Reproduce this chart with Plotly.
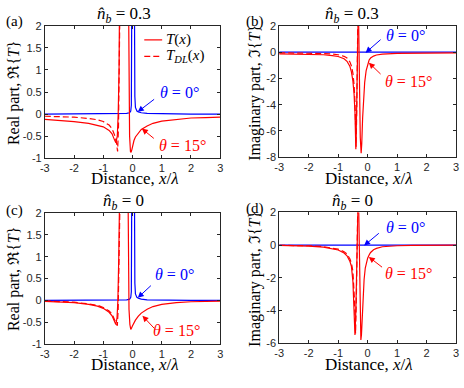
import plotly.graph_objects as go

# ---- data ----
# panel (a): real part, n_b = 0.3
a_x_T = [-3, -2.5, -2, -1.5, -1.2, -1, -0.8, -0.7, -0.62, -0.57, -0.52, -0.49, -0.46, -0.44, None,
         -0.14, -0.12, -0.1, -0.07, -0.05, -0.02, 0, 0.05, 0.1, 0.2, 0.3, 0.5, 0.7, 1, 1.5, 2, 2.5, 3]
a_y_T = [-0.12, -0.14, -0.17, -0.21, -0.25, -0.29, -0.37, -0.45, -0.58, -0.65, -0.5, 0, 1, 3, None,
         3, 0.5, -0.5, -0.85, -0.87, -0.8, -0.72, -0.6, -0.52, -0.42, -0.35, -0.27, -0.21, -0.16, -0.12, -0.09, -0.08, -0.07]
a_x_DL = [-3, -2.5, -2, -1.5, -1.2, -1, -0.8, -0.7, -0.6, -0.55, -0.51, -0.48, -0.46, -0.44, -0.42]
a_y_DL = [-0.05, -0.06, -0.07, -0.1, -0.13, -0.17, -0.25, -0.33, -0.5, -0.65, -0.85, -0.3, 0.5, 1.5, 3]

# panel (c): real part, n_b = 0
c_x_T = [-3, -2.5, -2, -1.5, -1.2, -1, -0.8, -0.7, -0.62, -0.57, -0.53, -0.5, -0.47, -0.45, -0.43, None,
         -0.16, -0.14, -0.12, -0.09, -0.06, -0.04, 0, 0.05, 0.1, 0.2, 0.3, 0.5, 0.7, 1, 1.5, 2, 2.5, 3]
c_y_T = [-0.02, -0.03, -0.05, -0.09, -0.13, -0.18, -0.27, -0.35, -0.47, -0.55, -0.4, 0, 1, 2.2, 3, None,
         3, 0.8, -0.2, -0.55, -0.66, -0.64, -0.58, -0.5, -0.45, -0.36, -0.29, -0.2, -0.14, -0.09, -0.05, -0.03, -0.02, -0.015]
c_x_DL = [-3, -2.5, -2, -1.5, -1.2, -1, -0.8, -0.7, -0.62, -0.56, -0.52, -0.49, -0.46, -0.43, -0.41]
c_y_DL = [-0.01, -0.02, -0.04, -0.08, -0.11, -0.16, -0.24, -0.31, -0.42, -0.5, -0.58, -0.2, 0.8, 2, 3]

# blue (theta = 0) real part, same in (a) and (c)
re_x_blue = [-3, -2, -1, -0.5, -0.3, -0.2, -0.1, -0.06, -0.04, -0.025, -0.02, 0.06, 0.066, 0.08, 0.1,
             0.15, 0.2, 0.3, 0.5, 1, 2, 3]
re_y_blue = [0, 0, 0, 0.005, 0.01, 0.015, 0.03, 0.07, 0.2, 2, 3.5, 3.5, 2, 0.4, 0.15,
             0.07, 0.05, 0.03, 0.015, 0.005, 0, 0]

# panel (b): imaginary part, n_b = 0.3
b_x_T = [-3, -2.5, -2, -1.5, -1.2, -1, -0.8, -0.7, -0.6, -0.55, -0.5, -0.46, -0.43, -0.4, -0.37, -0.34, -0.32, None,
         -0.31, -0.29, -0.27, -0.25, -0.22, -0.2, -0.17, -0.14, -0.1, -0.05, 0, 0.05, 0.1, 0.2, 0.3, 0.5, 1, 2, 3]
b_y_T = [-0.13, -0.14, -0.16, -0.2, -0.26, -0.33, -0.5, -0.7, -1.1, -1.5, -2.2, -3.2, -4.6, -7.4, -4, 0, 3, None,
         3, -1, -4.5, -6.5, -7.7, -7, -5, -3.5, -2.3, -1.4, -0.9, -0.6, -0.45, -0.3, -0.22, -0.15, -0.1, -0.07, -0.05]
b_x_DL = [-3, -2.5, -2, -1.5, -1.2, -1, -0.8, -0.7, -0.6, -0.55, -0.5, -0.46, -0.43, -0.41, -0.39, -0.37, -0.35, -0.33]
b_y_DL = [-0.05, -0.06, -0.08, -0.11, -0.15, -0.2, -0.32, -0.45, -0.75, -1.05, -1.6, -2.5, -3.8, -5.2, -7.2, -4.5, -0.5, 3]

# panel (d): imaginary part, n_b = 0
d_x_T = [-3, -2.5, -2, -1.5, -1.2, -1, -0.8, -0.7, -0.6, -0.55, -0.5, -0.47, -0.45, -0.43, -0.4, -0.37, -0.34, -0.32, None,
         -0.31, -0.29, -0.27, -0.25, -0.23, -0.21, -0.18, -0.15, -0.12, -0.08, -0.04, 0, 0.05, 0.1, 0.2, 0.3, 0.5, 0.7, 1, 1.5, 2, 3]
d_y_T = [-0.02, -0.03, -0.06, -0.12, -0.2, -0.3, -0.48, -0.65, -1.0, -1.3, -2.2, -3.3, -4.5, -5.5, -4, -1.5, 1, 3, None,
         3, 0, -3, -5, -5.8, -5.5, -4.2, -3, -2.1, -1.4, -1.0, -0.8, -0.6, -0.45, -0.28, -0.2, -0.1, -0.06, -0.04, -0.02, -0.01, -0.005]
d_x_DL = [-3, -2.5, -2, -1.5, -1.2, -1, -0.8, -0.7, -0.6, -0.55, -0.5, -0.47, -0.45, -0.43, -0.41, -0.38, -0.35, -0.33]
d_y_DL = [-0.01, -0.02, -0.04, -0.09, -0.16, -0.25, -0.4, -0.55, -0.85, -1.1, -1.6, -2.3, -3.2, -4.3, -5.4, -3, 0, 3]

# blue (theta = 0) imaginary part
im_x_blue = [-3, 0, 3]
im_y_blue = [0, 0, 0]

x_ticks = [-3, -2, -1, 0, 1, 2, 3]
re_ticks = [-1, -0.5, 0, 0.5, 1, 1.5, 2]
b_ticks = [-8, -6, -4, -2, 0, 2]
d_ticks = [-6, -4, -2, 0, 2]

RED = "#ff0000"
BLUE = "#0000ff"
AXC = "#262626"
SERIF = "Liberation Serif"
SANS = "Liberation Sans"

fig = go.Figure()


def add(x, y, color, dash, ax):
    fig.add_trace(go.Scatter(
        x=x, y=y, mode="lines", showlegend=False, hoverinfo="skip",
        line=dict(color=color, width=1.2, dash=dash),
        xaxis="x" + ax, yaxis="y" + ax,
    ))


# blue first, red on top
add(re_x_blue, re_y_blue, BLUE, "solid", "")
add(im_x_blue, im_y_blue, BLUE, "solid", "2")
add(re_x_blue, re_y_blue, BLUE, "solid", "3")
add(im_x_blue, im_y_blue, BLUE, "solid", "4")

add(a_x_T, a_y_T, RED, "solid", "")
add(a_x_DL, a_y_DL, RED, "6px,3px", "")
add(b_x_T, b_y_T, RED, "solid", "2")
add(b_x_DL, b_y_DL, RED, "6px,3px", "2")
add(c_x_T, c_y_T, RED, "solid", "3")
add(c_x_DL, c_y_DL, RED, "6px,3px", "3")
add(d_x_T, d_y_T, RED, "solid", "4")
add(d_x_DL, d_y_DL, RED, "6px,3px", "4")

W, H = 464, 388
# panel boxes in pixels: left, right, top, bottom
boxes = {
    "": (40.5, 219, 20.5, 157),
    "2": (279, 459, 20.5, 156),
    "3": (40.5, 219, 213.5, 349),
    "4": (279, 459, 213, 348),
}
yranges = {"": [-1, 2], "2": [-8, 2], "3": [-1, 2], "4": [-6, 2]}
yticks = {"": re_ticks, "2": b_ticks, "3": re_ticks, "4": d_ticks}

axis_style = dict(
    showline=True, linecolor=AXC, linewidth=0.8, mirror="ticks",
    ticks="inside", ticklen=3, tickcolor=AXC, tickwidth=0.8,
    showgrid=False, zeroline=False,
    tickfont=dict(family=SANS, size=11, color=AXC),
)

layout = {}
for k, (l, r, t, b) in boxes.items():
    layout["xaxis" + k] = dict(
        axis_style, domain=[l / W, r / W], range=[-3, 3], anchor="y" + k,
        tickvals=x_ticks, ticktext=[str(v) for v in x_ticks],
    )
    layout["yaxis" + k] = dict(
        axis_style, domain=[1 - b / H, 1 - t / H], range=yranges[k], anchor="x" + k,
        tickvals=yticks[k], ticktext=[("%g" % v) for v in yticks[k]],
    )

fig.update_layout(
    width=W, height=H,
    margin=dict(l=0, r=0, t=0, b=0),
    paper_bgcolor="white", plot_bgcolor="white",
    showlegend=False,
    **layout,
)

ann = []


def paper_text(x, y, text, size=15, angle=0, color="black"):
    ann.append(dict(
        xref="paper", yref="paper", x=x / W, y=1 - y / H, text=text,
        showarrow=False, textangle=angle, xanchor="center", yanchor="middle",
        font=dict(family=SERIF, size=size, color=color),
    ))


# titles
nhat = "<i>n\u0302</i><sub><i>b</i></sub>"
paper_text(121, 9, nhat + " = 0.3", 17)
paper_text(353, 9, nhat + " = 0.3", 17)
paper_text(121, 202, nhat + " = 0", 17)
paper_text(354, 202, nhat + " = 0", 17)

# panel labels
paper_text(10, 16, "(a)", 15)
paper_text(254, 16, "(b)", 15)
paper_text(10, 211, "(c)", 15)
paper_text(254, 209, "(d)", 15)

# axis titles
xt = "Distance, <i>x</i>/<i>\u03bb</i>"
paper_text(132, 178, xt, 17)
paper_text(370, 178, xt, 17)
paper_text(132, 370, xt, 17)
paper_text(370, 370, xt, 17)
paper_text(9, 90, "Real part, \u211c{<i>T</i>}", 16, -90)
paper_text(255, 90, "Imaginary part, \u2111{<i>T</i>}", 16, -90)
paper_text(9, 282, "Real part, \u211c{<i>T</i>}", 16, -90)
paper_text(255, 282, "Imaginary part, \u2111{<i>T</i>}", 16, -90)


def label(ax, x, y, text, color):
    ann.append(dict(
        xref="x" + ax, yref="y" + ax, x=x, y=y, text=text, showarrow=False,
        xanchor="center", yanchor="middle",
        font=dict(family=SERIF, size=16, color=color),
    ))


def arrow(ax, tip, tail, color):
    ann.append(dict(
        xref="x" + ax, yref="y" + ax, x=tip[0], y=tip[1],
        axref="x" + ax, ayref="y" + ax, ax=tail[0], ay=tail[1],
        text="", showarrow=True, arrowhead=2, arrowsize=1.2, arrowwidth=1,
        arrowcolor=color,
    ))


t0 = "<i>\u03b8</i> = 0\u00b0"
t15 = "<i>\u03b8</i> = 15\u00b0"

label("", 1.59, 0.49, t0, BLUE)
arrow("", (0.18, 0.05), (0.79, 0.36), BLUE)
label("", 1.72, -0.71, t15, RED)
arrow("", (0.32, -0.33), (0.78, -0.58), RED)

label("2", 1.30, 1.23, t0, BLUE)
arrow("2", (-0.07, -0.05), (0.49, 1.05), BLUE)
label("2", 1.37, -2.24, t15, RED)
arrow("2", (0.04, -0.8), (0.49, -1.78), RED)

label("3", 1.42, 0.60, t0, BLUE)
arrow("3", (0.18, 0.06), (0.68, 0.37), BLUE)
label("3", 1.49, -0.69, t15, RED)
arrow("3", (0.34, -0.35), (0.79, -0.67), RED)

label("4", 1.27, 1.08, t0, BLUE)
arrow("4", (-0.12, -0.03), (0.43, 0.8), BLUE)
label("4", 1.40, -1.76, t15, RED)
arrow("4", (0.04, -0.72), (0.54, -1.42), RED)

# legend drawn in panel (a)
ann.append(dict(xref="x domain", yref="y domain", x=0.681, y=0.894, text="<i>T</i>(<i>x</i>)",
                showarrow=False, xanchor="left", yanchor="middle",
                font=dict(family=SERIF, size=15, color="black")))
ann.append(dict(xref="x domain", yref="y domain", x=0.681, y=0.769,
                text="<i>T</i><sub><i>DL</i></sub>(<i>x</i>)",
                showarrow=False, xanchor="left", yanchor="middle",
                font=dict(family=SERIF, size=15, color="black")))
fig.add_shape(type="line", xref="x domain", yref="y domain", x0=0.567, x1=0.669, y0=0.894, y1=0.894,
              line=dict(color=RED, width=1.2))
fig.add_shape(type="line", xref="x domain", yref="y domain", x0=0.567, x1=0.669, y0=0.769, y1=0.769,
              line=dict(color=RED, width=1.2, dash="6px,3px"))

fig.update_layout(annotations=ann)
# the page body has a default 8px margin; drop it so the figure sits at the window corner
fig.write_html("out.html", config={"displayModeBar": False},
               post_script="document.body.style.margin='0px';")
